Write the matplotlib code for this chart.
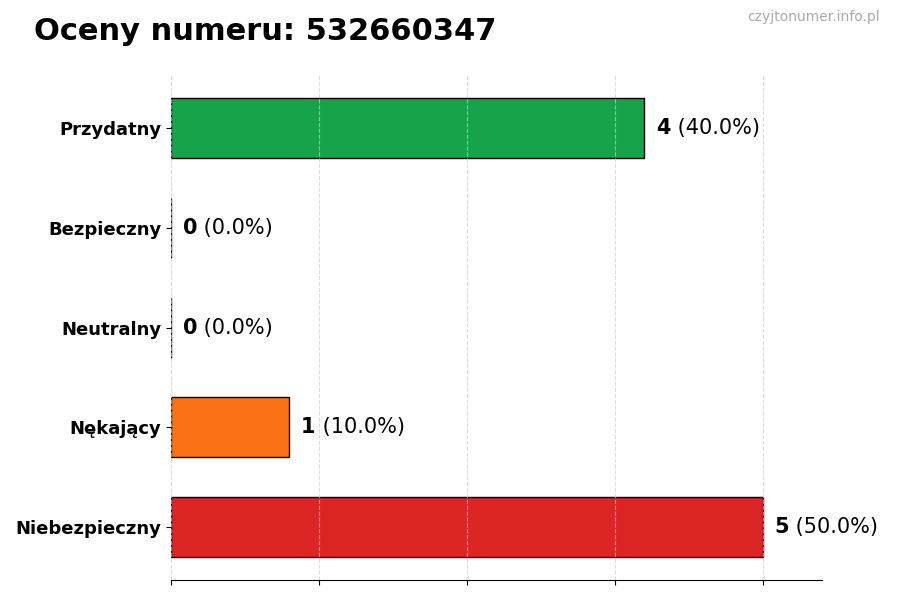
import matplotlib.pyplot as plt

categories = ["Przydatny", "Bezpieczny", "Neutralny", "Nękający", "Niebezpieczny"]
counts = [4, 0, 0, 1, 5]
colors = ["#16a34a", "#9ca3af", "#6b7280", "#f97316", "#dc2626"]
phone = "532660347"

total = sum(counts)
fig, ax = plt.subplots(figsize=(9, 6), dpi=100)
fig.subplots_adjust(left=0.19, right=0.913, top=0.875, bottom=0.033)

ypos = list(range(len(categories)))[::-1]
ax.barh(ypos, counts, height=0.6, color=colors, edgecolor="black", linewidth=1.0, zorder=2)

# count in bold, share in normal weight right after it
for y, c in zip(ypos, counts):
    pct = 100.0 * c / total
    t = ax.text(c + 0.1, y, f"{c}", fontsize=15, fontweight="bold", va="center", ha="left", zorder=4)
    ax.annotate(f" ({pct:.1f}%)", xycoords=t, xy=(1, 0.5), va="center", ha="left", fontsize=15)

ax.set_yticks(ypos)
ax.set_yticklabels(categories, fontsize=13, fontweight="bold")
ax.set_xlim(0, 5.5)
ax.set_xticks([0, 1.25, 2.5, 3.75, 5])
ax.set_xticklabels([])
ax.grid(axis="x", linestyle="--", color="#cccccc", alpha=0.7, zorder=3)
ax.set_axisbelow(False)
for s in ["top", "right", "left"]:
    ax.spines[s].set_visible(False)

fig.text(0.038, 0.947, f"Oceny numeru: {phone}", fontsize=22, fontweight="bold", va="center", ha="left")
fig.text(0.978, 0.971, "czyjtonumer.info.pl", fontsize=10, color="#aaaaaa", va="center", ha="right")

fig.savefig("out.png", dpi=100)
